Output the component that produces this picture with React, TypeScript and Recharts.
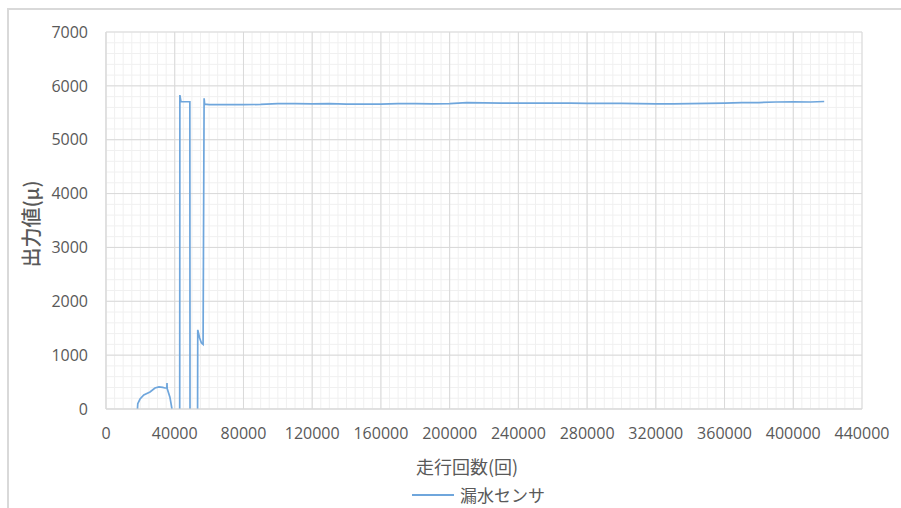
import React from 'react';
import { LineChart, Line, XAxis, YAxis, CartesianGrid } from 'recharts';

// 走行回数 (x) and 漏水センサ output (y); null = break in the trace
const runs = [
  18300, 18500, 19800, 22000, 25600, 28500, 30800, 33000, 34300, 35400, 35500, 35600, 37200, 38400, 40000,
  42900, 43000, 43600, 48800, 48900, 51000,
  53300, 53400, 54500, 55500, 56500, 57100, 57400,
  60000, 70000, 80000, 90000, 100000, 110000, 120000, 130000, 140000, 150000, 160000, 170000, 180000,
  190000, 200000, 210000, 220000, 230000, 240000, 250000, 260000, 270000, 280000, 290000, 300000,
  310000, 320000, 330000, 340000, 350000, 360000, 370000, 380000, 390000, 400000, 410000, 418000,
];
const sensor = [
  0, 100, 185, 260, 315, 390, 410, 400, 390, 395, 480, 380, 220, 0, null,
  0, 5830, 5705, 5705, 0, null,
  0, 1470, 1320, 1230, 1200, 5770, 5660,
  5650, 5650, 5650, 5655, 5670, 5670, 5665, 5670, 5660, 5660, 5660, 5670, 5670,
  5665, 5670, 5690, 5685, 5680, 5680, 5680, 5680, 5680, 5675, 5675, 5675,
  5670, 5665, 5665, 5670, 5675, 5680, 5690, 5690, 5700, 5705, 5700, 5710,
];

const xTicks = [0, 40000, 80000, 120000, 160000, 200000, 240000, 280000, 320000, 360000, 400000, 440000];
const yTicks = [0, 1000, 2000, 3000, 4000, 5000, 6000, 7000];

const seriesName = '漏水センサ';
const xTitle = '走行回数(回)';
const yTitle = '出力値(μ)';

const data = runs.map((run, i) => ({ run, value: sensor[i] }));

// minor gridlines: 5000 on x, 200 on y
const xMinor: number[] = [];
for (let v = 0; v <= 440000; v += 5000) xMinor.push(v);
const yMinor: number[] = [];
for (let v = 0; v <= 7000; v += 200) yMinor.push(v);

const textColor = '#595959';
const cjk = '"Noto Sans CJK JP", sans-serif';
const tickStyle = { fill: textColor, fontSize: 16, fontFamily: '"Open Sans", sans-serif' };

export default function App() {
  return (
    <div style={{ position: 'absolute', left: 0, top: 0, width: 901, height: 508, background: '#fff', overflow: 'hidden' }}>
      {/* chart frame, only top/left edges are visible in the crop */}
      <div style={{ position: 'absolute', left: 7, top: 8, width: 920, height: 520, borderTop: '2px solid #d9d9d9', borderLeft: '2px solid #d9d9d9' }} />

      <LineChart
        width={901}
        height={508}
        data={data}
        margin={{ top: 32, right: 39, bottom: 69, left: 0 }}
        style={{ position: 'absolute', left: 0, top: 0 }}
      >
        <CartesianGrid stroke="#f0f0f0" horizontalValues={yMinor} verticalValues={xMinor} />
        <CartesianGrid stroke="#d9d9d9" horizontalValues={yTicks} verticalValues={xTicks} />
        <XAxis
          dataKey="run"
          type="number"
          domain={[0, 440000]}
          ticks={xTicks}
          height={30}
          tickLine={false}
          tickSize={0}
          tickMargin={19}
          axisLine={{ stroke: '#d9d9d9' }}
          tick={tickStyle}
          interval={0}
        />
        <YAxis
          type="number"
          domain={[0, 7000]}
          ticks={yTicks}
          width={106}
          tickLine={false}
          tickSize={0}
          tickMargin={18}
          axisLine={{ stroke: '#d9d9d9' }}
          tick={tickStyle}
          interval={0}
        />
        <Line
          dataKey="value"
          name={seriesName}
          type="linear"
          stroke="#6fa6dc"
          strokeWidth={1.7}
          dot={false}
          connectNulls={false}
          isAnimationActive={false}
        />
      </LineChart>

      {/* axis titles */}
      <div
        style={{
          position: 'absolute', left: 30, top: 224, transform: 'translate(-50%, -50%) rotate(-90deg)',
          whiteSpace: 'nowrap', fontSize: 20, color: textColor, fontFamily: cjk, fontWeight: 500,
        }}
      >
        {yTitle}
      </div>
      <div
        style={{
          position: 'absolute', left: 467, top: 466, transform: 'translate(-50%, -50%)',
          whiteSpace: 'nowrap', fontSize: 18, color: textColor, fontFamily: cjk,
        }}
      >
        {xTitle}
      </div>

      {/* legend */}
      <div style={{ position: 'absolute', left: 412, top: 483, display: 'flex', alignItems: 'center', whiteSpace: 'nowrap' }}>
        <div style={{ width: 42, height: 2, background: '#6fa6dc', marginRight: 6 }} />
        <span style={{ fontSize: 17, color: textColor, fontFamily: cjk, lineHeight: '24px' }}>{seriesName}</span>
      </div>
    </div>
  );
}
